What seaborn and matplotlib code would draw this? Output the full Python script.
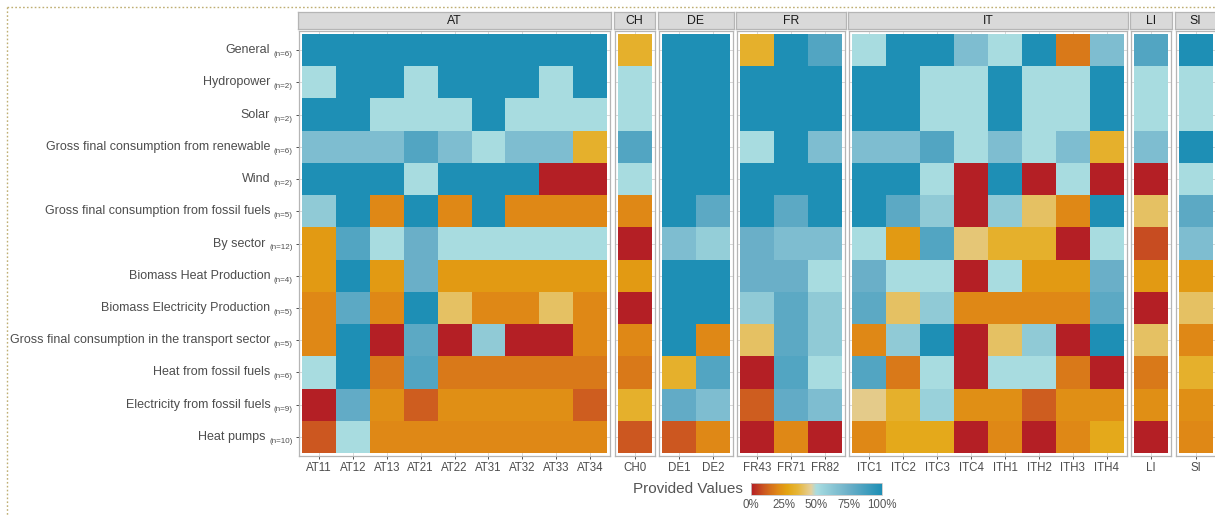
import numpy as np
import pandas as pd
import matplotlib
matplotlib.use("Agg")
import matplotlib.pyplot as plt
from matplotlib.colors import LinearSegmentedColormap
from matplotlib.lines import Line2D
import seaborn as sns

# Indicators (rows) and number of underlying variables per indicator
indicators = [
    "General",
    "Hydropower",
    "Solar",
    "Gross final consumption from renewable",
    "Wind",
    "Gross final consumption from fossil fuels",
    "By sector",
    "Biomass Heat Production",
    "Biomass Electricity Production",
    "Gross final consumption in the transport sector",
    "Heat from fossil fuels",
    "Electricity from fossil fuels",
    "Heat pumps",
]
n_counts = [6, 2, 2, 6, 2, 5, 12, 4, 5, 5, 6, 9, 10]

# Regions per country
at_regions = ["AT11", "AT12", "AT13", "AT21", "AT22", "AT31", "AT32", "AT33", "AT34"]
ch_regions = ["CH0"]
de_regions = ["DE1", "DE2"]
fr_regions = ["FR43", "FR71", "FR82"]
it_regions = ["ITC1", "ITC2", "ITC3", "ITC4", "ITH1", "ITH2", "ITH3", "ITH4"]
li_regions = ["LI"]
si_regions = ["SI"]

# Share of provided values (rows = indicators, columns = regions)
at_values = [
    [1, 1, 1, 1, 1, 1, 1, 1, 1],
    [.5, 1, 1, .5, 1, 1, 1, .5, 1],
    [1, 1, .5, .5, .5, 1, .5, .5, .5],
    [.67, .67, .67, .83, .67, .5, .67, .67, .33],
    [1, 1, 1, .5, 1, 1, 1, 0, 0],
    [.6, 1, .2, 1, .2, 1, .2, .2, .2],
    [.25, .83, .5, .75, .5, .5, .5, .5, .5],
    [.25, 1, .25, .75, .25, .25, .25, .25, .25],
    [.2, .8, .2, 1, .4, .2, .2, .4, .2],
    [.2, 1, 0, .8, 0, .6, 0, 0, .2],
    [.5, 1, .17, .83, .17, .17, .17, .17, .17],
    [0, .78, .22, .11, .22, .22, .22, .22, .11],
    [.1, .5, .2, .2, .2, .2, .2, .2, .2],
]
ch_values = [[.33], [.5], [.5], [.83], [.5], [.2], [0], [.25], [0], [.2], [.17], [.33], [.1]]
de_values = [
    [1, 1], [1, 1], [1, 1], [1, 1], [1, 1], [1, .8], [.67, .58],
    [1, 1], [1, 1], [1, .2], [.33, .83], [.78, .67], [.1, .2],
]
fr_values = [
    [.33, 1, .83], [1, 1, 1], [1, 1, 1], [.5, 1, .67], [1, 1, 1], [1, .8, 1],
    [.75, .67, .67], [.75, .75, .5], [.6, .8, .6], [.4, .8, .6], [0, .83, .5],
    [.11, .78, .67], [0, .2, 0],
]
it_values = [
    [.5, 1, 1, .67, .5, 1, .17, .67],
    [1, 1, .5, .5, 1, .5, .5, 1],
    [1, 1, .5, .5, 1, .5, .5, 1],
    [.67, .67, .83, .5, .67, .5, .67, .33],
    [1, 1, .5, 0, 1, 0, .5, 0],
    [1, .8, .6, 0, .6, .4, .2, 1],
    [.5, .25, .83, .42, .33, .33, 0, .5],
    [.75, .5, .5, 0, .5, .25, .25, .75],
    [.8, .4, .6, .2, .2, .2, .2, .8],
    [.2, .6, 1, 0, .4, .6, 0, 1],
    [.83, .17, .5, 0, .5, .5, .17, 0],
    [.44, .33, .56, .22, .22, .11, .22, .22],
    [.2, .3, .3, 0, .2, 0, .2, .3],
]
li_values = [[.83], [.5], [.5], [.67], [0], [.4], [.08], [.25], [0], [.4], [.17], [.22], [0]]
si_values = [[1], [.5], [.5], [1], [.5], [.8], [.67], [.25], [.4], [.2], [.33], [.22], [.2]]

countries = ["AT", "CH", "DE", "FR", "IT", "LI", "SI"]
country_regions = [at_regions, ch_regions, de_regions, fr_regions, it_regions, li_regions, si_regions]
country_values = [at_values, ch_values, de_values, fr_values, it_values, li_values, si_values]

cbar_ticks = [0, .25, .5, .75, 1]
cbar_labels = ["0%", "25%", "50%", "75%", "100%"]

# Red -> orange -> gold below one half, light cyan -> blue above
cmap = LinearSegmentedColormap.from_list(
    "provided",
    [(0.0, "#B41F25"), (0.10, "#CC5820"), (0.20, "#DF8816"), (0.28, "#E3A512"),
     (0.36, "#E6B73C"), (0.46, "#E4D09E"), (0.50, "#A8DCE0"), (0.75, "#6BAFC8"),
     (1.0, "#1E8FB5")],
)

sns.set_theme(style="white")
plt.rcParams["font.family"] = ["Liberation Sans", "DejaVu Sans"]

W, H = 1215, 515
fig = plt.figure(figsize=(W / 100, H / 100), dpi=100)


def fx(px):
    return px / W


def fy(py):
    return 1 - py / H


cw = 33.9          # column width in pixels
pad = 3.0          # white space between tiles and panel border
gap = 4.5          # space between panels
panel_top, panel_bottom = 31, 456
strip_top, strip_bottom = 12, 29
n_rows = len(indicators)
rh = (panel_bottom - panel_top - 2 * pad) / n_rows

border_col = "#B5B5B5"
text_col = "#4D4D4D"

x0 = 299.0
axes = []
mesh = None
for ci, (country, cols, vals) in enumerate(zip(countries, country_regions, country_values)):
    ncol = len(cols)
    width = ncol * cw + 2 * pad
    ax = fig.add_axes([fx(x0), fy(panel_bottom), width / W, (panel_bottom - panel_top) / H])
    df = pd.DataFrame(vals, index=indicators, columns=cols)
    sns.heatmap(df, ax=ax, cmap=cmap, vmin=0, vmax=1, cbar=False, linewidths=0)
    if mesh is None:
        mesh = ax.collections[0]
    padx, pady = pad / cw, pad / rh
    ax.set_xlim(-padx, ncol + padx)
    ax.set_ylim(n_rows + pady, -pady)
    for sp in ax.spines.values():
        sp.set_visible(True)
        sp.set_color(border_col)
        sp.set_linewidth(0.9)
    ax.set_xticks(np.arange(ncol) + 0.5)
    ax.set_xticklabels(cols, rotation=0)
    ax.set_yticks(np.arange(n_rows) + 0.5)
    ax.set_yticklabels([])
    ax.set_xlabel("")
    ax.set_ylabel("")
    ax.grid(True, color="#D2D2D2", linewidth=0.6)
    ax.set_axisbelow(True)
    ax.tick_params(axis="x", bottom=True, length=2.5, width=0.6, color="#333333",
                   labelsize=8.3, labelcolor=text_col, pad=1.5)
    ax.tick_params(axis="y", left=(ci == 0), length=2.5, width=0.6, color="#333333")

    # facet strip
    sax = fig.add_axes([fx(x0 - 1), fy(strip_bottom), (width + 2) / W,
                        (strip_bottom - strip_top) / H])
    sax.set_facecolor("#D9D9D9")
    sax.set_xticks([])
    sax.set_yticks([])
    for sp in sax.spines.values():
        sp.set_color(border_col)
        sp.set_linewidth(0.9)
    sax.text(0.5, 0.48, country, ha="center", va="center", fontsize=8.8,
             color="#1A1A1A", transform=sax.transAxes)

    axes.append(ax)
    x0 += width + gap

# Row labels with a small "(n=..)" subscript
ax0 = axes[0]
renderer = fig.canvas.get_renderer()
for i, (label, n) in enumerate(zip(indicators, n_counts)):
    sub = ax0.annotate(f"(n={n})", xy=(0, i + 0.5), xycoords=ax0.get_yaxis_transform(),
                       xytext=(-4.5, -3.2), textcoords="offset points",
                       ha="right", va="center", fontsize=5.8, color=text_col)
    w_pt = sub.get_window_extent(renderer).width * 72 / fig.dpi
    ax0.annotate(label, xy=(0, i + 0.5), xycoords=ax0.get_yaxis_transform(),
                 xytext=(-4.5 - w_pt - 2.5, 0), textcoords="offset points",
                 ha="right", va="center", fontsize=9.0, color=text_col)

# Colour bar legend
cax = fig.add_axes([fx(751), fy(495), 131 / W, 12 / H])
cb = fig.colorbar(mesh, cax=cax, orientation="horizontal", ticks=cbar_ticks)
cb.ax.set_xticklabels(cbar_labels)
cb.outline.set_edgecolor("#C8C8C8")
cb.outline.set_linewidth(0.6)
cb.ax.tick_params(length=0, pad=3, labelsize=8.3, labelcolor="#555555")
fig.text(fx(743), fy(489), "Provided Values", ha="right", va="center",
         fontsize=11, color="#555555")

# Dotted frame around the figure area
frame_kw = dict(color="#BFAE72", linewidth=1.0, linestyle=(0, (1.2, 1.6)),
                transform=fig.transFigure)
fig.add_artist(Line2D([fx(7), 1], [fy(6.5), fy(6.5)], **frame_kw))
fig.add_artist(Line2D([fx(7), fx(7)], [fy(6.5), 0], **frame_kw))

fig.savefig("out.png", dpi=100)
